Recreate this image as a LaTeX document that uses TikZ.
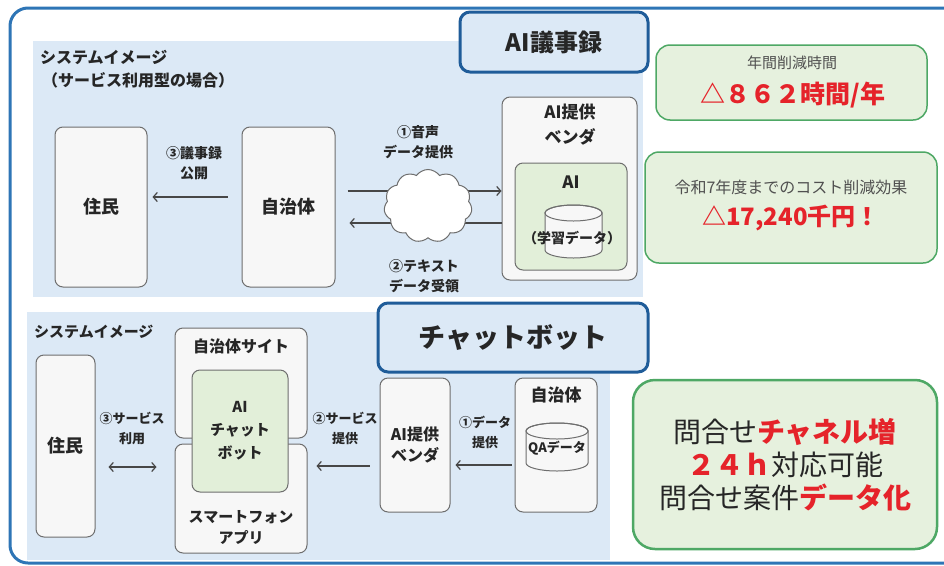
\documentclass[tikz,border=0pt]{standalone}
\usepackage{fontspec}
\setmainfont{Noto Sans CJK JP}
\usetikzlibrary{shapes.symbols,calc,arrows.meta}
\newcommand\fsz[2]{\fontsize{#1}{#2}\selectfont}
\definecolor{frameblue}{HTML}{2E75B6}
\definecolor{panelblue}{HTML}{DCE9F6}
\definecolor{titleblue}{HTML}{1F5C99}
\definecolor{boxgray}{HTML}{6E6E6E}
\definecolor{boxfill}{HTML}{F7F7F7}
\definecolor{aigreen}{HTML}{E2EFD9}
\definecolor{resgreen}{HTML}{4EA865}
\definecolor{resfill}{HTML}{E6F1DE}
\definecolor{redtxt}{HTML}{E5232A}
\definecolor{txt}{HTML}{262626}
\definecolor{subtxt}{HTML}{505050}
\tikzset{
  box/.style={draw=boxgray, fill=boxfill, rounded corners=8pt, line width=1pt, text=txt, font=\bfseries\fsz{18}{22}, align=center},
  aibox/.style={draw=boxgray, fill=aigreen, rounded corners=8pt, line width=1pt, text=txt, align=center},
  result/.style={draw=resgreen, fill=resfill, rounded corners=14pt, line width=1.5pt},
  titlebox/.style={draw=titleblue, fill=panelblue, rounded corners=10pt, line width=3pt, text=txt},
  lbl/.style={font=\bfseries\fsz{14}{20}, text=txt, align=center, inner sep=0pt},
  hd/.style={font=\bfseries\fsz{16}{20}, text=txt, inner sep=0pt},
  arr/.style={-{Straight Barb[length=4pt,width=9pt]}, draw=txt!85, line width=1.2pt},
  darr/.style={{Straight Barb[length=4pt,width=9pt]}-{Straight Barb[length=4pt,width=9pt]}, draw=txt!85, line width=1.2pt},
  pics/dbcyl/.style 2 args={code={
    \draw[boxgray, fill=boxfill, line width=1pt] (-#1,0) -- (-#1,#2)
      arc[start angle=180, end angle=0, x radius=#1, y radius=8]
      -- (#1,0) arc[start angle=0, end angle=-180, x radius=#1, y radius=8] -- cycle;
    \draw[boxgray, line width=1pt] (0,0) ellipse[x radius=#1, y radius=8];
  }}
}
\begin{document}
\begin{tikzpicture}[x=1pt,y=-1pt]
\clip (0,0) rectangle (944,565);
\fill[white] (0,0) rectangle (944,565);
% panels
\fill[panelblue] (33,41) rectangle (643,297);
\fill[panelblue] (27,312) rectangle (610,560);
\draw[frameblue, line width=3pt, rounded corners=18pt] (10,8) rectangle (964,563);

% ===== upper: AI minutes =====
\node[titlebox, minimum width=188pt, minimum height=60pt, font=\bfseries\fsz{24}{28}] (title1) at (554,42) {AI議事録};
\node[hd, anchor=west] (sys1) at (40,57) {システムイメージ};
\node[hd, anchor=west] (sys1b) at (42,80) {（サービス利用型の場合）};

\node[box, minimum width=92pt, minimum height=160pt] (jumin1) at (101,207) {住民};
\node[box, minimum width=93pt, minimum height=160pt] (jichitai1) at (288.5,207) {自治体};
\node[box, minimum width=135pt, minimum height=183pt] (vendor1) at (569.5,188.5) {};
\node[font=\bfseries\fsz{17}{25}, text=txt, align=center] (vendor1t) at (570,125) {AI提供\\ベンダ};
\node[aibox, minimum width=112pt, minimum height=107pt] (ai1) at (571,216.5) {};
\node[font=\bfseries\fsz{17}{20}, text=txt] (ai1t) at (571,182) {AI};
\pic at (573.5,213) {dbcyl={28.5}{37}};
\node[font=\bfseries\fsz{14}{16}, text=txt] (learn) at (572,238) {（学習データ）};

\coordinate (a1s) at ($(jichitai1.east)+(0,-16)$);
\draw[arr, shorten <=12pt] (a1s) -- (a1s -| vendor1.west);
\coordinate (a2s) at ($(jichitai1.east)+(0,16)$);
\draw[arr, shorten >=14pt] (a2s -| vendor1.west) -- (a2s);
\node[cloud, draw=boxgray, fill=white, line width=1pt, cloud puffs=11, cloud puff arc=110, aspect=1.2, minimum width=88pt, minimum height=73pt] (cloud) at (428,206) {};
\coordinate (a3s) at ($(jichitai1.west)+(0,-10)$);
\draw[arr, shorten <=14pt, shorten >=5pt] (a3s) -- (a3s -| jumin1.east);

\node[lbl] (l1) at (418,142) {①音声\\データ提供};
\node[lbl] (l2) at (424,276) {②テキスト\\データ受領};
\node[lbl] (l3) at (194,163) {③議事録\\公開};

% ===== right results =====
\node[result, minimum width=271pt, minimum height=75pt] (r1) at (791.5,82.5) {};
\node[font=\fsz{15}{18}, text=subtxt] (r1a) at (792,63) {年間削減時間};
\node[font=\bfseries\fsz{25}{28}, text=redtxt] (r1b) at (793,95) {△８６２時間/年};
\node[result, minimum width=292pt, minimum height=111pt] (r2) at (791,207.5) {};
\node[font=\fsz{16}{18}, text=subtxt] (r2a) at (791,187) {令和7年度までのコスト削減効果};
\node[font=\bfseries\fsz{24}{28}, text=redtxt] (r2b) at (791,218) {△17,240千円！};
\node[result, line width=2.5pt, rounded corners=22pt, minimum width=304pt, minimum height=169pt, font=\fsz{28}{33}, text=txt, align=center] (r3) at (785,464.5)
  {問合せ{\bfseries\color{redtxt}チャネル増}\\{\bfseries\color{redtxt}２４ｈ}対応可能\\問合せ案件{\bfseries\color{redtxt}データ化}};

% ===== lower: chatbot =====
\node[titlebox, minimum width=270pt, minimum height=69pt, font=\bfseries\fsz{27}{30}] (title2) at (513,337.5) {チャットボット};
\node[hd, anchor=west, font=\bfseries\fsz{15}{18}] (sys2) at (34,332) {システムイメージ};

\node[box, minimum width=59pt, minimum height=182pt] (jumin2) at (65.5,446) {住民};
\node[box, minimum width=132pt, minimum height=110pt] (site) at (241,383) {};
\node[box, minimum width=132pt, minimum height=109pt] (app) at (241,498.5) {};
\node[font=\bfseries\fsz{16}{20}, text=txt] (sitet) at (241,346) {自治体サイト};
\node[font=\bfseries\fsz{15}{21}, text=txt, align=center] (appt) at (241,527) {スマートフォン\\アプリ};
\node[aibox, minimum width=96pt, minimum height=122pt, font=\bfseries\fsz{15}{23}] (chat) at (240,431) {AI\\チャット\\ボット};
\node[box, minimum width=70pt, minimum height=134pt, font=\bfseries\fsz{16}{21}] (vendor2) at (415,445) {AI提供\\ベンダ};
\node[box, minimum width=82pt, minimum height=134pt] (jichitai2) at (556,445) {};
\node[font=\bfseries\fsz{17}{20}, text=txt] (j2t) at (556,395) {自治体};
\pic at (557,431) {dbcyl={31}{32}};
\node[font=\bfseries\fsz{13}{16}, text=txt] (qa) at (557,448) {QAデータ};

\coordinate (b3) at ($(jumin2.east)+(0,21)$);
\draw[darr, shorten <=13pt, shorten >=18pt] (b3) -- (b3 -| app.west);
\coordinate (b2) at ($(vendor2.west)+(0,21)$);
\draw[arr, shorten <=10pt, shorten >=9pt] (b2) -- (b2 -| app.east);
\coordinate (b1) at ($(jichitai2.west)+(0,20)$);
\draw[arr, shorten <=3pt, shorten >=5pt] (b1) -- (b1 -| vendor2.east);

\node[lbl, font=\bfseries\fsz{13}{20}] (m3) at (132,428) {③サービス\\利用};
\node[lbl, font=\bfseries\fsz{13}{20}] (m2) at (345,428) {②サービス\\提供};
\node[lbl, font=\bfseries\fsz{13}{20}] (m1) at (485,432) {①データ\\提供};
\end{tikzpicture}
\end{document}
